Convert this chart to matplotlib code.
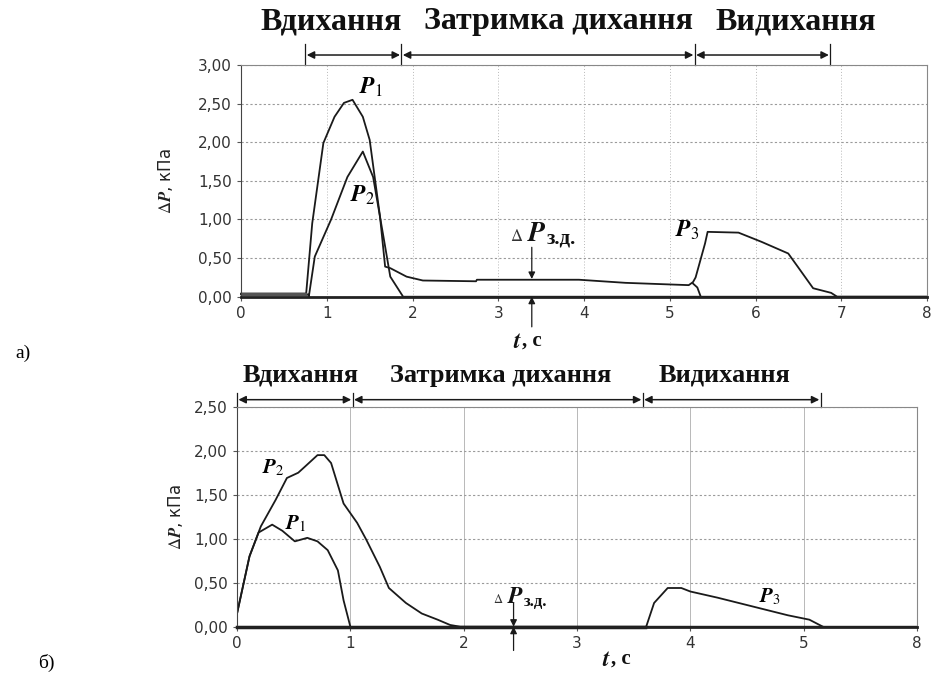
import matplotlib
matplotlib.use("Agg")
import matplotlib.pyplot as plt
from matplotlib.transforms import ScaledTranslation

plt.rcParams['mathtext.fontset'] = 'stix'

# --- chart a) ---
t_a_p1 = [0, 0.75, 0.76, 0.83, 0.96, 1.09, 1.20, 1.30, 1.42, 1.50, 1.62, 1.68, 1.74,
          1.93, 2.12, 2.74, 2.75, 3.94, 4.48, 5.22, 5.27, 5.30, 5.41, 5.44, 5.80,
          6.07, 6.38, 6.49, 6.67, 6.88, 6.95, 8.0]
v_a_p1 = [0.04, 0.04, 0.05, 0.95, 1.99, 2.33, 2.51, 2.55, 2.33, 2.03, 1.04, 0.39, 0.37,
          0.26, 0.21, 0.20, 0.22, 0.22, 0.18, 0.15, 0.19, 0.25, 0.69, 0.84, 0.83,
          0.71, 0.56, 0.39, 0.11, 0.05, 0.0, 0.0]
t_a_p2 = [0, 0.78, 0.79, 0.86, 1.05, 1.24, 1.42, 1.54, 1.66, 1.74, 1.89, 8.0]
v_a_p2 = [0.03, 0.03, 0.0, 0.52, 1.0, 1.55, 1.88, 1.55, 0.78, 0.26, 0.0, 0.0]
t_a_drop = [5.27, 5.32, 5.36]
v_a_drop = [0.17, 0.12, 0.0]
a_phase_bounds = [0.75, 1.87, 5.29, 6.87]
a_phase_centers = [1.05, 3.70, 6.47]
a_xticks = [0, 1, 2, 3, 4, 5, 6, 7, 8]
a_yticks = [0, 0.5, 1.0, 1.5, 2.0, 2.5, 3.0]

# --- chart б) ---
t_b_p2 = [0, 0.11, 0.21, 0.34, 0.44, 0.54, 0.60, 0.71, 0.77, 0.83, 0.94, 1.06, 1.14,
          1.26, 1.34, 1.49, 1.63, 1.77, 1.88, 1.97, 6.0]
v_b_p2 = [0.15, 0.80, 1.14, 1.44, 1.69, 1.75, 1.82, 1.95, 1.95, 1.86, 1.40, 1.18, 0.99,
          0.68, 0.44, 0.27, 0.15, 0.08, 0.02, 0.0, 0.0]
t_b_p1 = [0, 0.11, 0.19, 0.31, 0.40, 0.51, 0.62, 0.71, 0.80, 0.89, 0.94, 1.0]
v_b_p1 = [0.15, 0.80, 1.07, 1.16, 1.09, 0.97, 1.01, 0.97, 0.87, 0.64, 0.30, 0.0]
t_b_p3 = [3.61, 3.68, 3.80, 3.92, 4.0, 4.24, 4.55, 4.86, 5.05, 5.17]
v_b_p3 = [0.0, 0.27, 0.44, 0.44, 0.40, 0.33, 0.23, 0.13, 0.08, 0.0]
b_phase_bounds = [0.0, 1.02, 3.58, 5.15]
b_phase_centers = [0.56, 2.33, 4.3]
b_xticks = [0, 1, 2, 3, 4, 5, 6]
b_xticklabels = ["0", "1", "2", "3", "4", "5", "8"]
b_yticks = [0, 0.5, 1.0, 1.5, 2.0, 2.5]

phase_names = ["Вдихання", "Затримка дихання", "Видихання"]

LINE = "#1a1a1a"
GRID = "#9a9a9a"
TICK = "#555555"
SERIF = "Liberation Serif"


def fmt(v):
    return ("%.2f" % v).replace(".", ",")


def style_axes(ax, xticks, xlabels, yticks, xmax, ymax, vgrid_style):
    ax.set_xlim(0, xmax)
    ax.set_ylim(0, ymax)
    ax.set_xticks(xticks)
    ax.set_xticklabels(xlabels)
    ax.set_yticks(yticks)
    ax.set_yticklabels([fmt(v) for v in yticks])
    ax.tick_params(labelsize=11, colors=TICK, length=3, width=0.8)
    for lab in ax.get_xticklabels() + ax.get_yticklabels():
        lab.set_color("#333333")
    for s in ["top", "right"]:
        ax.spines[s].set_color("#888888")
        ax.spines[s].set_linewidth(0.8)
    ax.spines["left"].set_color("#444444")
    ax.spines["bottom"].set_color("#222222")
    ax.spines["bottom"].set_linewidth(2.0)
    ax.yaxis.grid(True, color=GRID, linestyle=(0, (2, 2)), linewidth=0.8)
    ax.xaxis.grid(True, color="#b8b8b8", linestyle=vgrid_style, linewidth=0.7)
    ax.set_axisbelow(True)


def phase_arrows(ax, bounds, y_arrow, y_bar0, y_bar1):
    for b in bounds:
        ax.plot([b, b], [y_bar0, y_bar1], color=LINE, lw=0.9, clip_on=False)
    for x0, x1 in zip(bounds[:-1], bounds[1:]):
        ax.annotate("", xy=(x1, y_arrow), xytext=(x0, y_arrow),
                    arrowprops=dict(arrowstyle="<|-|>", color=LINE, lw=1.1,
                                    mutation_scale=11, shrinkA=1, shrinkB=1),
                    annotation_clip=False)


def phase_texts(ax, centers, y, size):
    for c, name in zip(centers, phase_names):
        ax.text(c, y, name, ha="center", va="center", fontsize=size,
                fontweight="bold", family=SERIF, color="#111111")


def ylabel(ax, x):
    ax.text(x, 0.5, r"$\Delta\mathbfit{P}$, кПа", transform=ax.transAxes,
            rotation=90, ha="center", va="center", fontsize=12, color="#222222")


def xlabel(ax, x, y):
    ax.text(x, y, r"$\mathbfit{t}$", transform=ax.transAxes, ha="right",
            va="center", fontsize=17, color="#111111")
    ax.text(x, y, ", с", transform=ax.transAxes, ha="left", va="center",
            fontsize=15, fontweight="bold", family=SERIF, color="#111111")


def delta_label(ax, x, y, size):
    shift = ScaledTranslation(-size * 0.85 / 72, 0, fig.dpi_scale_trans)
    ax.text(x, y, r"$\Delta$", ha="right", va="baseline",
            fontsize=size - 8, color="#333333", transform=ax.transData + shift)
    ax.text(x, y, r"$\mathbfit{P}$", ha="right", va="baseline",
            fontsize=size, color="#111111")
    ax.text(x, y - 0.03, "з.д.", ha="left", va="baseline",
            fontsize=size - 5, fontweight="bold", family=SERIF, color="#111111")


def pointer(ax, x, y_top, y_line, y_bot, y_zero):
    ax.annotate("", xy=(x, y_line), xytext=(x, y_top),
                arrowprops=dict(arrowstyle="-|>", color=LINE, lw=0.9,
                                mutation_scale=10, shrinkA=0, shrinkB=0),
                annotation_clip=False)
    ax.annotate("", xy=(x, y_zero), xytext=(x, y_bot),
                arrowprops=dict(arrowstyle="-|>", color=LINE, lw=0.9,
                                mutation_scale=10, shrinkA=0, shrinkB=0),
                annotation_clip=False)


fig = plt.figure(figsize=(9.31, 6.79), dpi=100)

# ---------- a) ----------
ax1 = fig.add_axes([0.2589, 0.563, 0.737, 0.3412])
style_axes(ax1, a_xticks, [str(v) for v in a_xticks], a_yticks, 8, 3.0, (0, (1, 2)))
ax1.plot(t_a_p1, v_a_p1, color=LINE, lw=1.3, clip_on=False)
ax1.plot(t_a_p2, v_a_p2, color=LINE, lw=1.3, clip_on=False)
ax1.plot(t_a_drop, v_a_drop, color=LINE, lw=1.3)
ax1.plot([0, 0.75], [0.03, 0.03], color="#555555", lw=2.5)

phase_arrows(ax1, a_phase_bounds, 3.13, 3.0, 3.27)
phase_texts(ax1, a_phase_centers, 3.56, 23)

ax1.text(1.52, 2.72, r"$\mathbfit{P}_{\mathit{1}}$", fontsize=17, ha="center", va="center")
ax1.text(1.42, 1.32, r"$\mathbfit{P}_{\mathit{2}}$", fontsize=17, ha="center", va="center")
ax1.text(5.2, 0.86, r"$\mathbfit{P}_{\mathit{3}}$", fontsize=17, ha="center", va="center")

delta_label(ax1, 3.56, 0.72, 20)
pointer(ax1, 3.39, 0.64, 0.23, -0.39, 0.0)
ylabel(ax1, -0.11)
xlabel(ax1, 0.41, -0.19)
fig.text(0.025, 0.48, "а)", fontsize=14, family=SERIF, ha="center", va="center")

# ---------- б) ----------
ax2 = fig.add_axes([0.2546, 0.077, 0.7304, 0.324])
style_axes(ax2, b_xticks, b_xticklabels, b_yticks, 6, 2.5, "-")
ax2.plot(t_b_p2, v_b_p2, color=LINE, lw=1.3)
ax2.plot(t_b_p1, v_b_p1, color=LINE, lw=1.3)
ax2.plot(t_b_p3, v_b_p3, color=LINE, lw=1.3)
ax2.plot([0, 3.6], [0.0, 0.0], color="#111111", lw=2.5, clip_on=False)

phase_arrows(ax2, b_phase_bounds, 2.58, 2.5, 2.66)
phase_texts(ax2, b_phase_centers, 2.86, 19)

ax2.text(0.32, 1.81, r"$\mathbfit{P}_{\mathit{2}}$", fontsize=15, ha="center", va="center")
ax2.text(0.52, 1.17, r"$\mathbfit{P}_{\mathit{1}}$", fontsize=15, ha="center", va="center")
ax2.text(4.7, 0.34, r"$\mathbfit{P}_{\mathit{3}}$", fontsize=15, ha="center", va="center")

delta_label(ax2, 2.53, 0.27, 17)
pointer(ax2, 2.44, 0.27, 0.0, -0.27, 0.0)
ylabel(ax2, -0.09)
xlabel(ax2, 0.55, -0.145)
fig.text(0.05, 0.024, "б)", fontsize=14, family=SERIF, ha="center", va="center")

fig.savefig("out.png", dpi=100)
